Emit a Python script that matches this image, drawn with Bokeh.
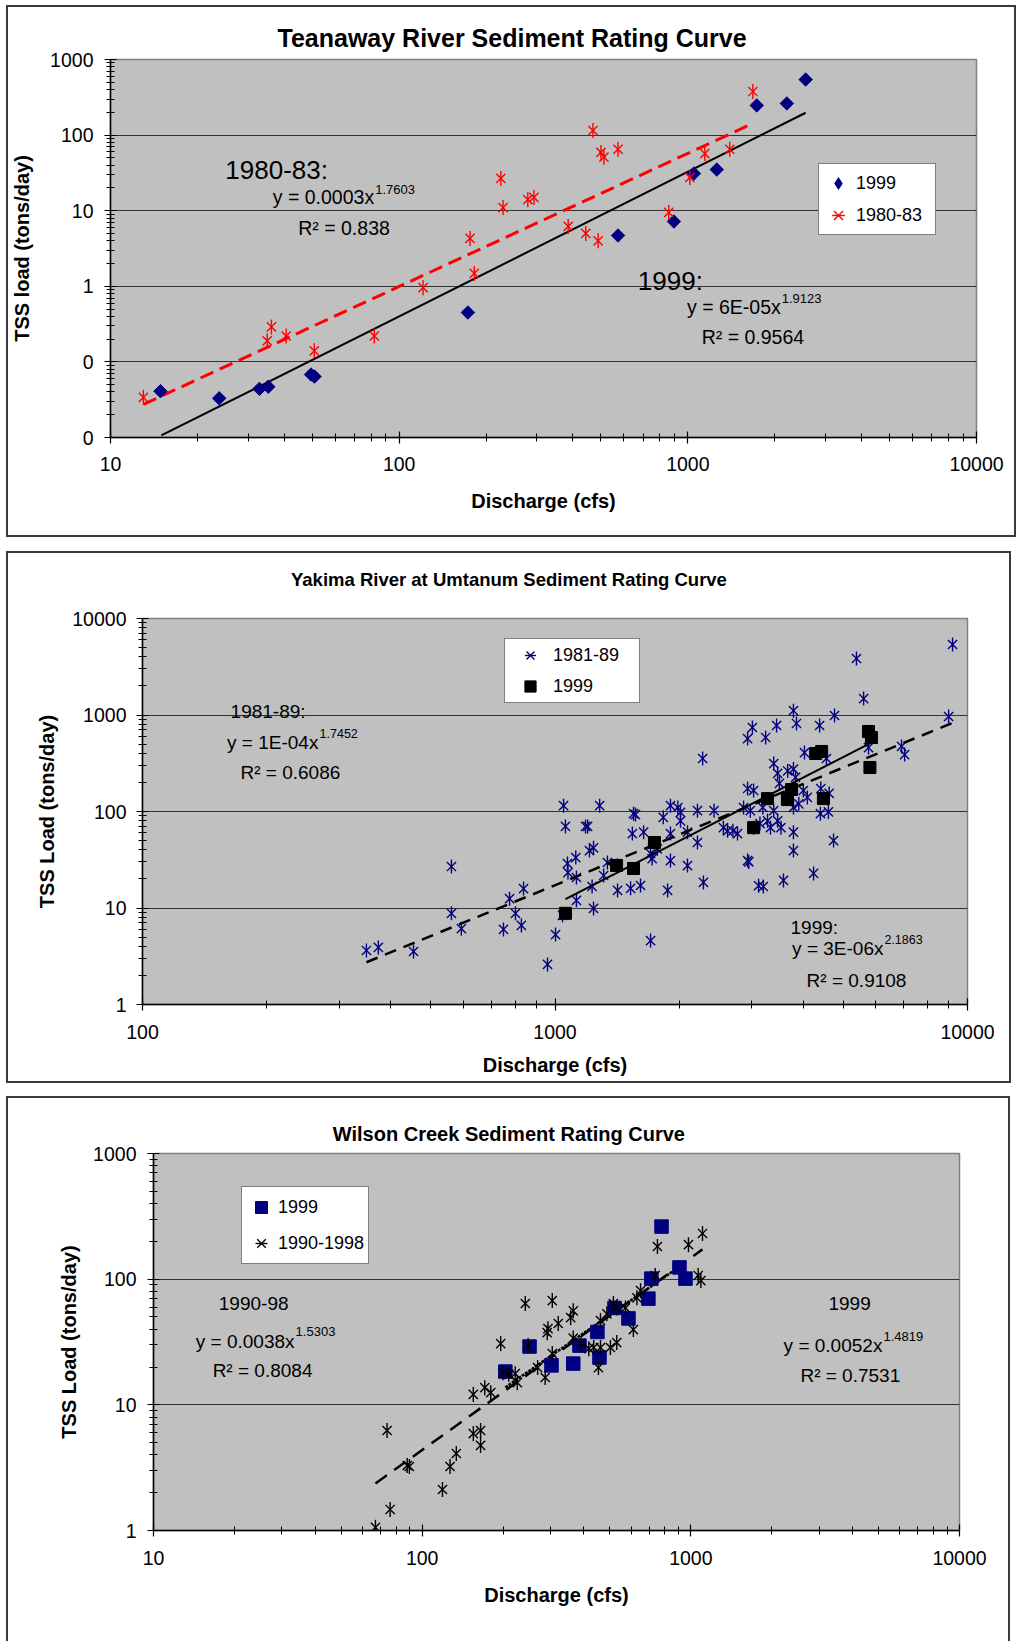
import math
from bokeh.plotting import figure
from bokeh.models import (Range1d, FixedTicker, Label, Legend, LegendItem,
                          CustomJSTickFormatter)
from bokeh.embed import file_html
from bokeh.resources import INLINE

FONT = "Liberation Sans"
NAVY = "#000080"
RED = "#FF0000"
BG = "#C0C0C0"

# ---------------- Teanaway River ----------------
tea_title = "Teanaway River Sediment Rating Curve"
tea_1999_q = [14.9, 23.8, 32.8, 35.2, 49.5, 50.9, 173, 573, 895, 1050, 1260, 1733, 2203, 2560]
tea_1999_tss = [0.041, 0.033, 0.044, 0.047, 0.068, 0.064, 0.45, 4.7, 7.2, 31, 35, 247, 262, 543]
tea_8083_q = [13.0, 34.9, 36.1, 40.6, 50.8, 82, 121, 182, 176, 225, 229, 279, 293, 385,
              443, 489, 469, 500, 512, 573, 859, 1016, 1145, 1397, 1680]
tea_8083_tss = [0.034, 0.19, 0.29, 0.22, 0.14, 0.22, 0.96, 1.48, 4.3, 26.7, 11, 14, 15, 6.2,
                5.0, 4.0, 115, 59, 51, 65, 9.5, 27.5, 57, 65, 377]
tea_fit_1999 = {"a": 6e-05, "b": 1.9123, "q": [15, 2560]}
tea_fit_8083 = {"a": 0.0003, "b": 1.7603, "q": [13, 1650]}

# ---------------- Yakima River at Umtanum ----------------
yak_title = "Yakima River at Umtanum Sediment Rating Curve"
yak_8189_q = [349, 373, 454, 561, 561, 593, 750, 776, 802, 829, 839, 959, 1003, 1043,
              1060, 1186, 1200, 1212, 1240, 1072, 1123, 1127, 1075, 1127, 1240, 1230, 1312, 1340,
              1418, 1525, 1612, 1550, 1540, 1640, 1705, 1720, 1770, 1705, 1830, 1875, 1905, 1905,
              2015, 2095, 2095, 2215, 2290, 2560, 2620, 2700, 2770, 2930, 2950, 3030, 3115, 3200,
              3580, 3785, 3785, 4235, 4735,
              1049, 1283, 1567, 1905, 1985, 2015, 2215, 2430, 2865, 2975, 3190, 3390, 3785, 3900,
              4400, 4600, 3140, 3275, 3330, 3465, 3530,
              2930, 3030, 4000, 4090, 4410, 4620, 3390, 3465, 3665, 3785, 3830, 3500, 2280, 4025,
              4550, 5755, 6920, 7040, 2930, 3240, 3010, 3445, 3850, 4380, 3785, 4760, 9000, 5600,
              5380, 9200]
yak_8189_tss = [3.63, 3.9, 3.54, 26.9, 8.8, 6.1, 6.0, 12.5, 8.8, 6.6, 15.9, 2.6, 5.3, 8.4,
                70, 70, 70, 39.4, 42, 28.9, 33.3, 20.7, 23.3, 12, 9.9, 16.7, 21.7, 29.6,
                15.2, 16, 17.1, 95, 59, 61, 36.7, 32.5, 41, 4.6, 87, 15.2, 31, 59,
                80, 27.5, 61, 47.7, 18.4, 68, 63, 63, 59, 31, 30, 68, 17, 16.7,
                19.3, 39.4, 61, 22.8, 50,
                115, 115, 93, 115, 110, 98, 102, 102, 110, 102, 110, 102, 110, 120,
                95, 99, 75, 80, 68, 80, 68,
                173, 165, 165, 140, 173, 154, 314, 248, 263, 275, 226, 196, 354, 408,
                354, 460, 472, 389, 570, 585, 742, 778, 817, 778, 1110, 988, 965, 1480,
                3850, 5380]
yak_1999_q = [1060, 1410, 1550, 1742, 3030, 3275, 3660, 3745, 4285, 4430, 4475, 5755, 5850, 5800]
yak_1999_tss = [8.8, 27.6, 25.7, 47.7, 68, 136, 133, 169, 399, 419, 136, 675, 585, 286]
yak_fit_8189 = {"a": 1e-04, "b": 1.7452, "q": [349, 9200]}
yak_fit_1999 = {"a": 3e-06, "b": 2.1863, "q": [1060, 5850]}

# ---------------- Wilson Creek ----------------
wil_title = "Wilson Creek Sediment Rating Curve"
wil_1999_q = [204, 251, 303, 365, 385, 449, 457, 520, 586, 695, 713, 778, 907, 955]
wil_1999_tss = [18.4, 29.1, 20.6, 21.3, 29.6, 38, 23.8, 59, 48.7, 70, 101, 262, 124, 101]
wil_9098_q = [67, 76, 74, 88, 89.6, 119, 127, 134, 155, 155, 165, 165, 171, 180,
              196, 200, 210, 222, 226, 242, 248, 269, 287, 292, 294, 305, 305, 321, 357,
              365, 365, 390, 417, 435, 453, 461, 461, 487, 502, 515, 530, 530, 571, 611,
              630, 650, 737, 751, 980, 1065, 1090, 1105]
wil_9098_tss = [1.06, 1.47, 6.25, 3.29, 3.23, 2.12, 3.23, 4.1, 12.1, 5.9, 6.25, 4.75, 13.7, 12.5,
                30.7, 18, 17.5, 17.7, 15.0, 64, 29.6, 19.8, 16.5, 37.5, 40.4, 67.6, 25.6, 44.4, 49.4,
                56, 34, 30.7, 28, 28.6, 19.8, 28.6, 46.9, 53, 28.6, 64, 59, 31.3, 59, 39.7,
                71, 81, 107, 182, 188, 107, 97.5, 231]
wil_fit_9098 = {"a": 0.0038, "b": 1.5303, "q": [67, 1105]}
wil_fit_1999 = {"a": 0.0052, "b": 1.4819, "q": [204, 955]}


def decades(lo, hi):
    major = [10.0 ** e for e in range(lo, hi + 1)]
    minor = [k * 10.0 ** e for e in range(lo, hi) for k in range(2, 10)]
    return major, minor


def fit_line(fit):
    ys = [fit["a"] * q ** fit["b"] for q in fit["q"]]
    return fit["q"], ys


def make_fig(width, height, borders, xr, yr, xdec, ydec, ylabel, stand, title):
    left, right, top, bottom = borders
    p = figure(width=width, height=height, x_axis_type="log", y_axis_type="log",
               x_range=Range1d(*xr), y_range=Range1d(*yr),
               output_backend="svg", toolbar_location=None,
               min_border_left=left, min_border_right=right,
               min_border_top=top, min_border_bottom=bottom)
    text_, tsize, toffset, tstand = title
    p.title.text = text_
    p.title.text_font = FONT
    p.title.text_font_size = tsize
    p.title.text_font_style = "bold"
    p.title.text_color = "black"
    p.title.align = "left"
    p.title.offset = toffset
    p.title.standoff = tstand
    p.title.vertical_align = "bottom"
    p.background_fill_color = BG
    p.border_fill_color = "white"
    p.outline_line_color = "#808080"
    p.outline_line_width = 1.5
    p.xgrid.visible = False
    p.ygrid.grid_line_color = "#333333"
    p.ygrid.grid_line_width = 1
    xmaj, xmin = decades(*xdec)
    ymaj, ymin = decades(*ydec)
    p.xaxis.ticker = FixedTicker(ticks=xmaj, minor_ticks=xmin)
    p.yaxis.ticker = FixedTicker(ticks=ymaj, minor_ticks=ymin)
    fmt = "return tick < 1 ? '0' : Math.round(tick).toString();"
    for ax in (p.xaxis[0], p.yaxis[0]):
        ax.formatter = CustomJSTickFormatter(code=fmt)
        ax.axis_line_color = "black"
        ax.axis_line_width = 1.5
        ax.major_tick_line_color = "black"
        ax.major_tick_line_width = 1.2
        ax.major_tick_in = 6
        ax.major_tick_out = 6
        ax.minor_tick_line_color = "black"
        ax.minor_tick_line_width = 1
        ax.minor_tick_in = 4
        ax.minor_tick_out = 4
        ax.major_label_text_font = FONT
        ax.major_label_text_font_size = "19.5px"
        ax.major_label_text_color = "black"
        ax.axis_label_text_font = FONT
        ax.axis_label_text_font_size = "20px"
        ax.axis_label_text_font_style = "bold"
        ax.axis_label_text_color = "black"
    xs_lab, xs_ax, ys_lab, ys_ax = stand
    p.xaxis.axis_label = "Discharge (cfs)"
    p.yaxis.axis_label = ylabel
    p.xaxis.major_label_standoff = xs_lab
    p.xaxis.axis_label_standoff = xs_ax
    p.yaxis.major_label_standoff = ys_lab
    p.yaxis.axis_label_standoff = ys_ax
    return p


def text(p, x, y, s, size, align="left"):
    p.add_layout(Label(x=x, y=y, text=s, text_font=FONT, text_font_size=size,
                       text_align=align, text_baseline="alphabetic", text_color="black"))


def asterisk(p, q, t, color, xs=13, ds=15):
    r1 = p.scatter(q, t, marker="x", size=xs, line_color=color, line_width=1.4)
    r2 = p.scatter(q, t, marker="dash", angle=math.pi / 2, size=ds,
                   line_color=color, line_width=1.4)
    return [r1, r2]


def legend(p, items, loc, padding, spacing, gw, gh, standoff, lw):
    lg = Legend(items=items, location=loc, margin=0, padding=padding, spacing=spacing,
                glyph_width=gw, glyph_height=gh, label_height=gh, label_standoff=standoff,
                label_width=lw,
                border_line_color="black", border_line_width=1,
                background_fill_color="white", background_fill_alpha=1.0,
                label_text_font=FONT, label_text_font_size="18px", label_text_color="black")
    p.add_layout(lg)


# ================= Chart 1 =================
p1 = make_fig(1006, 528, (101, 38, 52, 98), (10, 10000), (0.01, 1000), (1, 4), (-2, 3),
              "TSS load (tons/day)", (13, 16, 11, 14), (tea_title, "25px", 167, 16))
p1.styles = {"margin-left": "8px", "margin-top": "7px", "box-shadow": "0 0 0 2px #3a3a3a"}
fq, ft = fit_line(tea_fit_8083)
p1.line(fq, ft, line_color=RED, line_width=3, line_dash="14 7")
fq, ft = fit_line(tea_fit_1999)
p1.line(fq, ft, line_color="black", line_width=2)
p1.scatter(tea_1999_q, tea_1999_tss, marker="square", angle=math.pi / 4, size=9.5,
           fill_color=NAVY, line_color=NAVY)
r_a = p1.scatter(tea_1999_q, tea_1999_tss, marker="diamond", size=0,
                 fill_color=NAVY, line_color=None)
r_b = asterisk(p1, tea_8083_q, tea_8083_tss, RED, 13, 15)
legend(p1, [LegendItem(label="1999", renderers=[r_a]),
            LegendItem(label="1980-83", renderers=r_b)], (708, 202), 3, 0, 32, 32, 2, 76)
text(p1, 25.0, 34.2, "1980-83:", "26px")
text(p1, 81.9, 15.17, "y = 0.0003x", "19.5px", "right")
text(p1, 82.6, 19.27, "1.7603", "13px")
text(p1, 44.7, 5.90, "R\u00b2 = 0.838", "19.5px")
text(p1, 671, 1.176, "1999:", "26px")
text(p1, 2099, 0.533, "y = 6E-05x", "19.5px", "right")
text(p1, 2115, 0.690, "1.9123", "13px")
text(p1, 1117, 0.211, "R\u00b2 = 0.9564", "19.5px")

# ================= Chart 2 =================
p2 = make_fig(1001, 528, (134, 42, 65, 77), (100, 10000), (1, 10000), (2, 4), (0, 4),
              "TSS Load (tons/day)", (14, 12, 10, 11), (yak_title + "\n ", "18.5px", 148.5, 15))
p2.styles = {"margin-left": "8px", "margin-top": "18px", "box-shadow": "0 0 0 2px #3a3a3a"}
r_c = asterisk(p2, yak_8189_q, yak_8189_tss, NAVY, 13, 14)
r_d = p2.scatter(yak_1999_q, yak_1999_tss, marker="square", size=12,
                 fill_color="black", line_color="black")
fq, ft = fit_line(yak_fit_8189)
p2.line(fq, ft, line_color="black", line_width=2.5, line_dash="12 8")
fq, ft = fit_line(yak_fit_1999)
p2.line(fq, ft, line_color="black", line_width=2)
legend(p2, [LegendItem(label="1981-89", renderers=r_c),
            LegendItem(label="1999", renderers=[r_d])], (362, 301), 2, 3, 46, 28, 0, 84)
text(p2, 163.5, 1090, "1981-89:", "19px")
text(p2, 267, 515, "y = 1E-04x", "19px", "right")
text(p2, 268.7, 647, "1.7452", "12.5px")
text(p2, 172.8, 256, "R\u00b2 = 0.6086", "19px")
text(p2, 3724, 6.34, "1999:", "19px")
text(p2, 6256, 3.78, "y = 3E-06x", "19px", "right")
text(p2, 6290, 4.74, "2.1863", "12.5px")
text(p2, 4073, 1.778, "R\u00b2 = 0.9108", "19px")

# ================= Chart 3 =================
p3 = make_fig(1000, 545, (145, 49, 55, 113), (10, 10000), (1, 1000), (1, 4), (0, 3),
              "TSS Load (tons/day)", (14, 16, 11, 10), (wil_title, "20px", 179.3, 18))
p3.styles = {"margin-left": "8px", "margin-top": "17px",
             "box-shadow": "-2px -2px 0 0 #3a3a3a, 2px -2px 0 0 #3a3a3a"}
fq, ft = fit_line(wil_fit_9098)
p3.line(fq, ft, line_color="black", line_width=2.5, line_dash="14 9")
fq, ft = fit_line(wil_fit_1999)
p3.line(fq, ft, line_color="black", line_width=2.5, line_dash="3 1")
r_e = p3.scatter(wil_1999_q, wil_1999_tss, marker="square", size=13.5,
                 fill_color=NAVY, line_color=NAVY)
r_f = asterisk(p3, wil_9098_q, wil_9098_tss, "black", 13, 15)
legend(p3, [LegendItem(label="1999", renderers=[r_e]),
            LegendItem(label="1990-1998", renderers=r_f)], (88, 266), 4, 4, 30, 32, 2, 72)
text(p3, 17.5, 64.5, "1990-98", "19px")
text(p3, 33.5, 31.9, "y = 0.0038x", "19px", "right")
text(p3, 33.8, 38.0, "1.5303", "13px")
text(p3, 16.6, 18.8, "R\u00b2 = 0.8084", "19px")
text(p3, 3252, 64.5, "1999", "19px")
text(p3, 5164, 29.7, "y = 0.0052x", "19px", "right")
text(p3, 5210, 34.7, "1.4819", "13px")
text(p3, 2558, 17.1, "R\u00b2 = 0.7531", "19px")

open("out.html", "w").write(file_html([p1, p2, p3], INLINE))
